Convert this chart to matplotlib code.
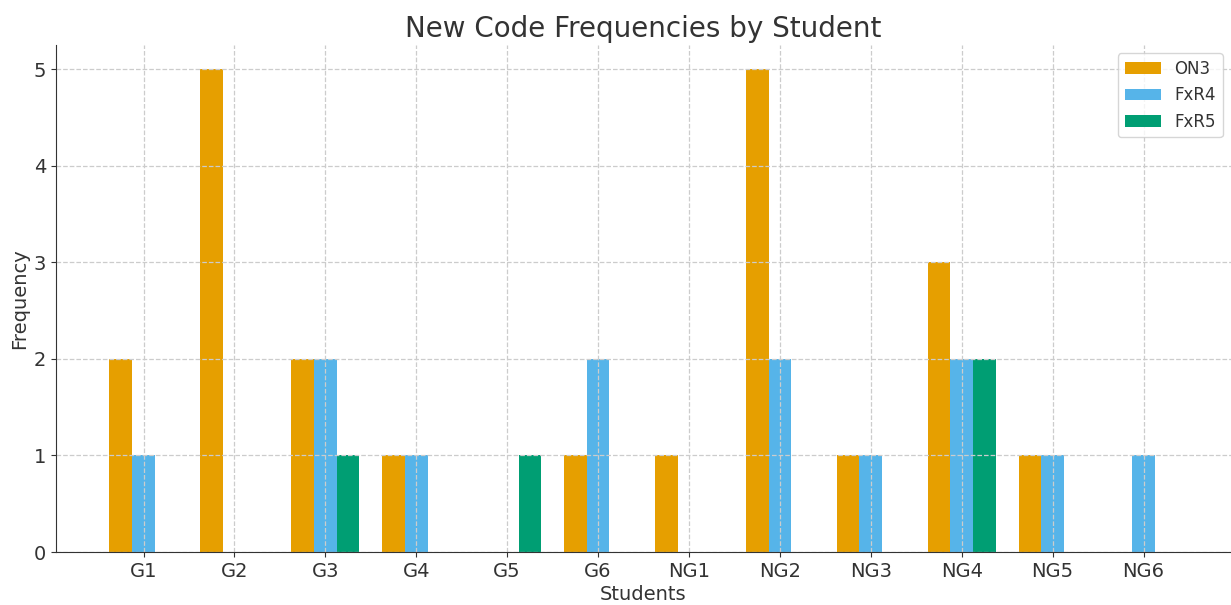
import numpy as np
import matplotlib.pyplot as plt

students = ["G1", "G2", "G3", "G4", "G5", "G6", "NG1", "NG2", "NG3", "NG4", "NG5", "NG6"]
on3 = [2, 5, 2, 1, 0, 1, 1, 5, 1, 3, 1, 0]
fxr4 = [1, 0, 2, 1, 0, 2, 0, 2, 1, 2, 1, 1]
fxr5 = [0, 0, 1, 0, 1, 0, 0, 0, 0, 2, 0, 0]

text_color = "#333333"
plt.rcParams["text.color"] = text_color
plt.rcParams["axes.labelcolor"] = text_color
plt.rcParams["xtick.color"] = text_color
plt.rcParams["ytick.color"] = text_color

fig = plt.figure(figsize=(12.31, 6.05), dpi=100)
ax = fig.add_axes([56 / 1231, 1 - 552 / 605, 1 - 56 / 1231, (552 - 45) / 605])

x = np.arange(len(students))
width = 0.25

ax.bar(x - width, on3, width, label="ON3", color="#E69F00")
ax.bar(x, fxr4, width, label="FxR4", color="#56B4E9")
ax.bar(x + width, fxr5, width, label="FxR5", color="#009E73")

ax.set_title("New Code Frequencies by Student", fontsize=20, pad=6)
ax.set_xlabel("Students", fontsize=14, labelpad=3)
ax.set_ylabel("Frequency", fontsize=14, labelpad=3)
ax.set_xticks(x)
ax.set_xticklabels(students)
ax.tick_params(axis="both", labelsize=14, color="#333333")

ax.grid(True, linestyle="--", color="#cccccc", linewidth=0.9)
ax.spines["top"].set_visible(False)
ax.spines["right"].set_visible(False)
ax.spines["left"].set_color("#333333")
ax.spines["bottom"].set_color("#333333")

ax.legend(fontsize=12, loc="upper right", handlelength=2.2)

plt.savefig("out.png", dpi=100)
